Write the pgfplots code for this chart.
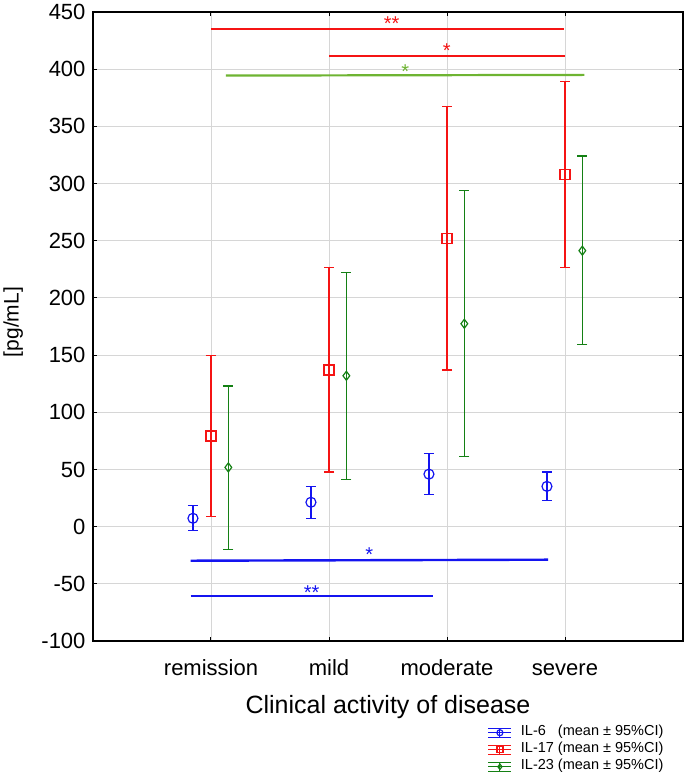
\documentclass[border=0pt]{standalone}
\usepackage{pgfplots}
\pgfplotsset{compat=1.18}
\usepackage{pgfplotstable}
\usepackage{fontspec}
\setmainfont{Liberation Sans}
\definecolor{cblue}{RGB}{20,20,240}
\definecolor{cred}{RGB}{245,20,20}
\definecolor{cgreen}{RGB}{20,128,20}
\definecolor{lgreen}{RGB}{110,180,50}
\definecolor{gridc}{RGB}{214,214,214}

\pgfplotstableread{
x y ep em
0.847 7.3 11.0 11.0
1.847 21.3 13.6 14.0
2.847 45.9 18.0 18.0
3.847 35.2 12.5 12.5
}\ILsix
\pgfplotstableread{
x y ep em
1 79.3 70.6 70.5
2 137.0 89.6 89.3
3 252.0 115.3 115.0
4 307.8 81.6 81.2
}\ILseventeen
\pgfplotstableread{
x y ep em
1.147 51.8 71.2 71.7
2.147 131.9 90.3 90.4
3.147 177.4 116.8 116.4
4.147 241.3 82.7 82.3
}\ILtwentythree

\begin{document}
\begin{tikzpicture}
\begin{axis}[
  scale only axis, width=590pt, height=629pt,
  xmin=0, xmax=5, ymin=-100, ymax=450,
  xtick={1,2,3,4}, xticklabels={remission,mild,moderate,severe},
  ytick={-100,-50,0,50,100,150,200,250,300,350,400,450},
  yticklabels={-100,-50,0,50,100,150,200,250,300,350,400,450},
  tick align=inside, major tick length=4pt,
  xmajorgrids, ymajorgrids, grid style={gridc, line width=0.9pt},
  axis line style={line width=1.1pt},
  tick style={black, line width=1pt},
  ticklabel style={font=\fontsize{22}{26}\selectfont},
  yticklabel style={xshift=-4pt},
  xticklabel style={anchor=north, inner sep=0pt, text height=16pt, text depth=0pt, yshift=-18pt},
  xlabel={Clinical activity of disease},
  xlabel style={font=\fontsize{25}{30}\selectfont, at={(axis description cs:0.5,-0.1145)}, anchor=base},
  ylabel={[pg/mL]},
  ylabel style={font=\fontsize{21}{25}\selectfont, at={(axis description cs:-0.126,0.507)}, anchor=base},
  legend style={at={(axis description cs:0.669,-0.132)}, anchor=north west, draw=none, fill=none,
    inner sep=0pt, font=\fontsize{14.5}{16}\selectfont, row sep=0pt,
    nodes={inner sep=0pt, text height=11pt, text depth=6pt},
    /tikz/every odd column/.append style={column sep=9pt}},
  legend cell align=left,
  legend image code/.code={
    \draw[mark=none, line width=1pt] (0pt,0pt) -- (23pt,0pt) (0pt,4.5pt) -- (23pt,4.5pt) (0pt,-4.5pt) -- (23pt,-4.5pt) (11.5pt,-4.5pt) -- (11.5pt,4.5pt);
    \draw[every mark/.append style={scale=0.6}] plot coordinates {(11.5pt,0pt)};
  },
]
\addplot[cblue, line width=1.2pt, only marks, mark=o, mark size=5pt,
  error bars/.cd, y dir=both, y explicit, error bar style={line width=1.2pt},
  error mark options={rotate=90, mark size=5pt, line width=1.2pt}]
  table[x=x, y=y, y error plus=ep, y error minus=em]{\ILsix};
\addlegendentry{IL-6\phantom{1} (mean ± 95\%CI)}
\addplot[cred, line width=1.2pt, only marks, mark=square, mark size=5pt,
  error bars/.cd, y dir=both, y explicit, error bar style={line width=1.2pt},
  error mark options={rotate=90, mark size=5pt, line width=1.2pt}]
  table[x=x, y=y, y error plus=ep, y error minus=em]{\ILseventeen};
\addlegendentry{IL-17 (mean ± 95\%CI)}
\addplot[cgreen, line width=1.2pt, only marks, mark=diamond, mark size=4.5pt,
  error bars/.cd, y dir=both, y explicit, error bar style={line width=1.2pt},
  error mark options={rotate=90, mark size=5pt, line width=1.2pt}]
  table[x=x, y=y, y error plus=ep, y error minus=em]{\ILtwentythree};
\addlegendentry{IL-23 (mean ± 95\%CI)}

\addplot[cred, line width=2pt, forget plot] coordinates {(1,434.8) (3.99,434.8)};
\addplot[cred, line width=2pt, forget plot] coordinates {(2,411.8) (4,411.8)};
\addplot[lgreen, line width=2.2pt, forget plot] coordinates {(1.127,394.4) (4.164,395.0)};
\addplot[cblue, line width=2.4pt, forget plot] coordinates {(0.828,-29.8) (3.857,-28.9)};
\addplot[cblue, line width=2.4pt, forget plot] coordinates {(0.828,-60.9) (2.879,-60.9)};

\node[cred, font=\fontsize{20}{20}\selectfont, anchor=base, inner sep=0pt] at (axis cs:2.53,443.9) [yshift=-11.6pt] {**};
\node[cred, font=\fontsize{20}{20}\selectfont, anchor=base, inner sep=0pt] at (axis cs:2.997,420.5) [yshift=-11.6pt] {*};
\node[lgreen, font=\fontsize{20}{20}\selectfont, anchor=base, inner sep=0pt] at (axis cs:2.647,402.2) [yshift=-11.6pt] {*};
\node[cblue, font=\fontsize{20}{20}\selectfont, anchor=base, inner sep=0pt] at (axis cs:2.341,-20.4) [yshift=-11.6pt] {*};
\node[cblue, font=\fontsize{20}{20}\selectfont, anchor=base, inner sep=0pt] at (axis cs:1.853,-53.3) [yshift=-11.6pt] {**};
\end{axis}
\pgfresetboundingbox
\path (current axis.south west) ++(-93pt,-135pt) rectangle ++(685pt,776pt);
\end{tikzpicture}
\end{document}
